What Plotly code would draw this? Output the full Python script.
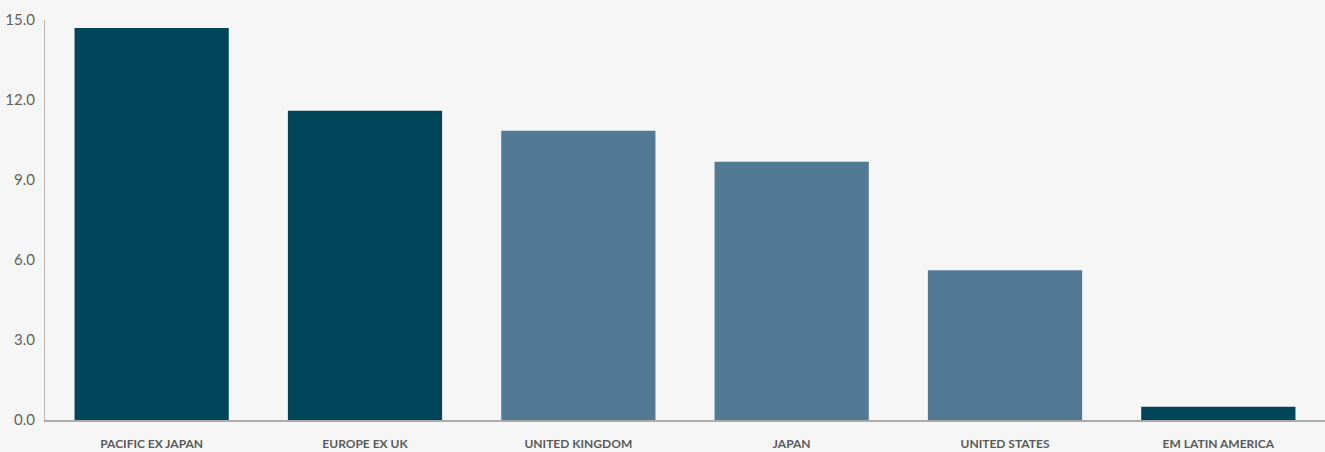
import plotly.graph_objects as go

categories = ["PACIFIC EX JAPAN", "EUROPE EX UK", "UNITED KINGDOM", "JAPAN", "UNITED STATES", "EM LATIN AMERICA"]
values = [14.7, 11.6, 10.85, 9.68, 5.62, 0.5]
colors = ["#004559", "#004559", "#527a94", "#527a94", "#527a94", "#004559"]
y_ticks = [0, 3, 6, 9, 12, 15]
y_tick_labels = ["0.0", "3.0", "6.0", "9.0", "12.0", "15.0"]

fig = go.Figure(go.Bar(x=categories, y=values, marker=dict(color=colors, line=dict(width=0)),
                       hoverinfo="x+y"))

fig.update_layout(
    width=1325, height=452,
    margin=dict(l=45, r=0, t=20, b=32),
    paper_bgcolor="#f6f6f6", plot_bgcolor="#f6f6f6",
    bargap=0.277,
    showlegend=False,
    font=dict(family="Lato, sans-serif", color="#666666"),
    xaxis=dict(showgrid=False, showline=True, linecolor="#ababab", linewidth=2,
               ticks="outside", ticklen=12, tickcolor="rgba(0,0,0,0)", automargin=False,
               tickfont=dict(size=12, color="#5a5a5a", family="Lato, sans-serif", weight="bold"),
               zeroline=False),
    yaxis=dict(range=[0, 15], tickvals=y_ticks, ticktext=y_tick_labels,
               showgrid=False, showline=True, linecolor="#b5b5b5", linewidth=1,
               ticks="outside", ticklen=6, tickcolor="rgba(0,0,0,0)", automargin=False,
               tickfont=dict(size=15, color="#606060"), zeroline=False),
)

fig.write_html("out.html", config={"displayModeBar": False},
               post_script="document.body.style.margin='0';document.body.style.background='#f6f6f6';")
